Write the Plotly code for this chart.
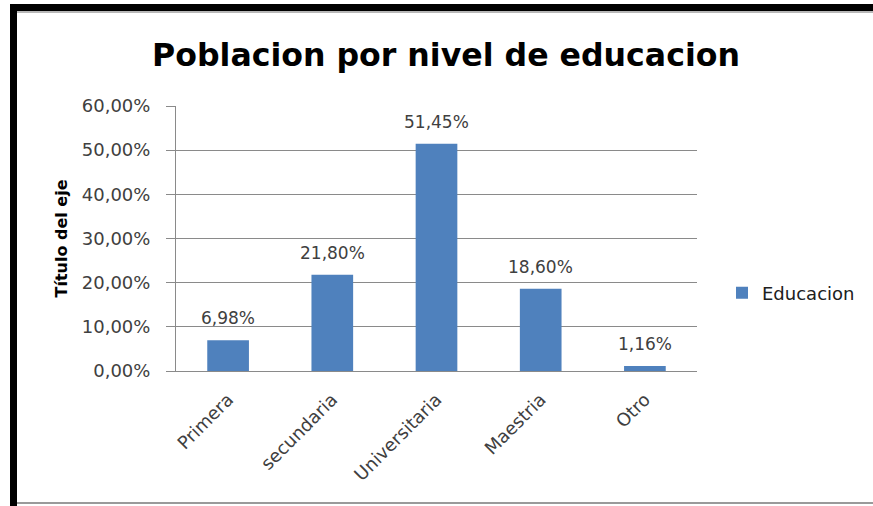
import plotly.graph_objects as go

categories = ["Primera", "secundaria", "Universitaria", "Maestria", "Otro"]
values = [0.0698, 0.2180, 0.5145, 0.1860, 0.0116]
series_name = "Educacion"
y_ticks = [0, 0.1, 0.2, 0.3, 0.4, 0.5, 0.6]

W, H = 873, 506
L, R, T, B = 176, 176, 106, 135
pw, ph = W - L - R, H - T - B

def px(x):
    return (x - L) / pw

def py(y):
    return (H - B - y) / ph

FONT = "DejaVu Sans"
TXT = "#404040"

fig = go.Figure()
fig.add_trace(go.Bar(
    x=categories, y=values, name=series_name,
    marker=dict(color="#4F81BD", line=dict(width=0)),
    showlegend=True,
))

for c, v in zip(categories, values):
    fig.add_annotation(
        x=c, y=v, xref="x", yref="y",
        text=f"{v*100:.2f}%".replace(".", ","),
        showarrow=False, yanchor="bottom", yshift=10,
        font=dict(family=FONT, size=17, color=TXT),
    )

shapes = [
    dict(type="rect", xref="paper", yref="paper", x0=px(10), x1=px(17), y0=py(H + 5), y1=py(4),
         fillcolor="black", line=dict(width=0), layer="above"),
    dict(type="rect", xref="paper", yref="paper", x0=px(10), x1=px(W + 5), y0=py(11), y1=py(4),
         fillcolor="black", line=dict(width=0), layer="above"),
    dict(type="line", xref="paper", yref="paper", x0=px(17), x1=px(W + 5), y0=py(12), y1=py(12),
         line=dict(color="#A0A0A0", width=1.5)),
    dict(type="line", xref="paper", yref="paper", x0=px(17), x1=px(W + 5), y0=py(503), y1=py(503),
         line=dict(color="#9A9A9A", width=2)),
]

fig.update_layout(
    width=W, height=H,
    margin=dict(l=L, r=R, t=T, b=B, autoexpand=False),
    paper_bgcolor="white", plot_bgcolor="white",
    separators=",.",
    bargap=0.6,
    title=dict(text="<b>Poblacion por nivel de educacion</b>", x=446 / W, xanchor="center",
               y=1 - 55 / H, yanchor="middle",
               font=dict(family=FONT, size=31.6, color="black")),
    font=dict(family=FONT, color=TXT),
    legend=dict(x=px(722), y=py(293), xanchor="left", yanchor="middle",
                font=dict(family=FONT, size=18, color="#202020"),
                itemwidth=30, bgcolor="rgba(0,0,0,0)"),
    shapes=shapes,
)

fig.update_yaxes(
    range=[0, 0.6], tickvals=y_ticks, tickformat=".2%",
    showgrid=True, gridcolor="#8A8A8A", gridwidth=1,
    showline=True, linecolor="#8A8A8A", linewidth=1,
    ticks="outside", ticklen=9, tickcolor="#8A8A8A",
    ticklabelstandoff=12,
    zeroline=False,
    tickfont=dict(family=FONT, size=18, color=TXT),
    title=dict(text="<b>Título del eje</b>", standoff=10,
               font=dict(family=FONT, size=16, color="black")),
)
fig.update_xaxes(
    showline=True, linecolor="#8A8A8A", linewidth=1,
    ticks="", tickangle=-45, ticklabelstandoff=10,
    tickfont=dict(family=FONT, size=18, color=TXT),
)

fig.write_html("out.html", config={"displayModeBar": False},
               post_script="document.body.style.margin='0';document.body.style.overflow='hidden';")
